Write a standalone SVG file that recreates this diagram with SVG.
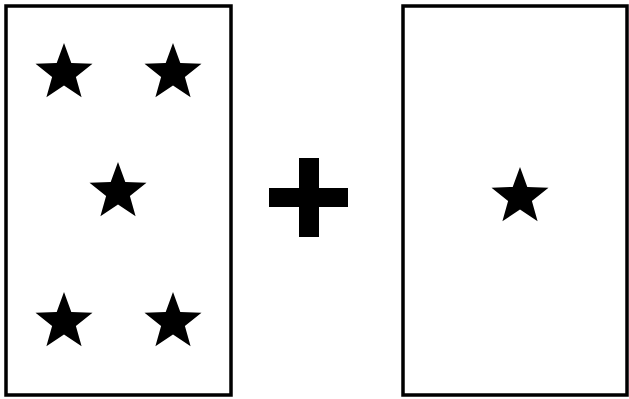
<svg xmlns="http://www.w3.org/2000/svg" width="629" height="399" viewBox="0 0 629 399">
<style>
.box{fill:#fff;stroke:#000;stroke-width:3.5}
.star{fill:#000}
</style>
<defs>
<polygon id="star" points="0,-30 7.3,-10.1 28.5,-9.3 11.9,3.9 17.6,24.3 0,12.5 -17.6,24.3 -11.9,3.9 -28.5,-9.3 -7.3,-10.1"/>
</defs>
<rect width="629" height="399" fill="#fff"/>
<g id="left-box">
<rect class="box" x="6" y="6" width="225" height="389"/>
<use href="#star" class="star" x="64" y="73"/>
<use href="#star" class="star" x="173" y="73"/>
<use href="#star" class="star" x="118" y="192"/>
<use href="#star" class="star" x="64" y="322"/>
<use href="#star" class="star" x="173" y="322"/>
</g>
<g id="plus">
<rect x="299" y="158" width="20" height="79" fill="#000"/>
<rect x="269" y="188" width="79" height="19" fill="#000"/>
</g>
<g id="right-box">
<rect class="box" x="403" y="6" width="224" height="389"/>
<use href="#star" class="star" x="520" y="197"/>
</g>
</svg>
